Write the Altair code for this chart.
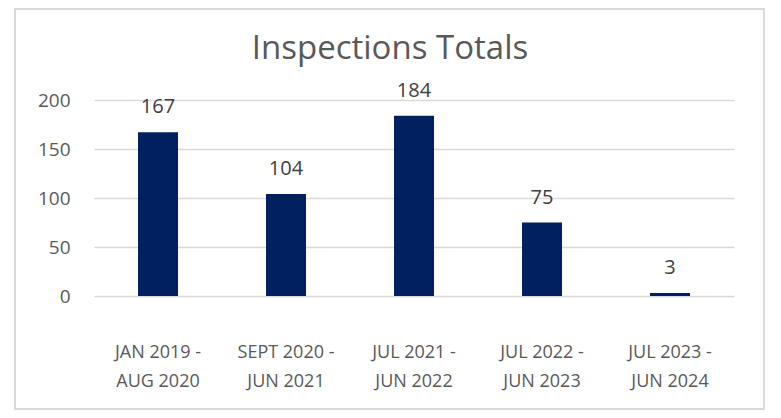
import altair as alt
import pandas as pd

categories = ["JAN 2019 -|AUG 2020", "SEPT 2020 -|JUN 2021", "JUL 2021 -|JUN 2022",
              "JUL 2022 -|JUN 2023", "JUL 2023 -|JUN 2024"]
values = [167, 104, 184, 75, 3]
y_ticks = [0, 50, 100, 150, 200]

df = pd.DataFrame({"period": categories, "total": values})
FONT = "Open Sans"

base = alt.Chart(df).encode(
    x=alt.X("period:N", sort=None, title=None,
            scale=alt.Scale(paddingInner=0.6875, paddingOuter=0.34375),
            axis=alt.Axis(labelExpr="split(datum.label, '|')", labelAngle=0,
                          labelFont=FONT, labelFontSize=18, labelColor="#595959",
                          labelLineHeight=29, labelBaseline="top", labelPadding=47,
                          domain=False, ticks=False, grid=False)),
    y=alt.Y("total:Q", title=None,
            scale=alt.Scale(domain=[0, 200]),
            axis=alt.Axis(values=y_ticks, labelFont=FONT, labelFontSize=19,
                          labelColor="#595959", labelPadding=24, domain=False,
                          ticks=False, grid=True, gridColor="#d9d9d9", gridWidth=1.3)),
)

bars = base.mark_bar(color="#002060")
labels = base.mark_text(font=FONT, fontSize=20, color="#404040",
                        baseline="alphabetic", dy=-19).encode(text="total:Q")

border = alt.Chart(pd.DataFrame({"a": [0]})).mark_rect(
    fill=None, stroke="#d9d9d9", strokeWidth=2, clip=False
).encode(x=alt.value(-79), x2=alt.value(670), y=alt.value(-91), y2=alt.value(309))

chart = alt.layer(border, bars, labels).properties(
    width=640, height=196,
    background="white",
    title=alt.TitleParams("Inspections Totals", font=FONT, fontSize=33,
                          fontWeight="normal", color="#595959", anchor="middle",
                          baseline="alphabetic", offset=-84, dx=-24),
    autosize=alt.AutoSizeParams(type="none"),
    padding={"left": 86, "top": 92, "right": 39, "bottom": 114},
).configure_view(strokeWidth=0, stroke="transparent")

chart.save("out.html", embed_options={"renderer": "svg", "actions": False})
